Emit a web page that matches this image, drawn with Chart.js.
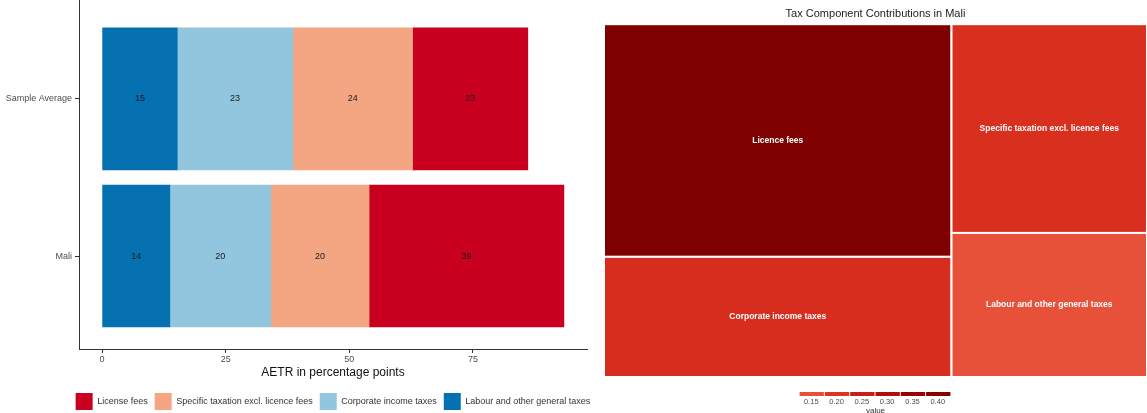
<!DOCTYPE html>
<html>
<head>
<meta charset="utf-8">
<script src="https://cdn.jsdelivr.net/npm/chart.js@4.4.1/dist/chart.umd.min.js"></script>
<style>
  html, body { margin: 0; padding: 0; background: #fff; }
  #wrap { position: relative; width: 1147px; height: 413px; overflow: hidden; }
  #barBox { position: absolute; left: 0; top: 0; width: 600px; height: 413px; }
  #treeBox { position: absolute; left: 600px; top: 0; width: 547px; height: 413px; }
</style>
</head>
<body>
<div id="wrap">
  <div id="barBox"><canvas id="barChart"></canvas></div>
  <div id="treeBox"><canvas id="treeChart"></canvas></div>
</div>
<script>
// ---- left panel: stacked AETR bars ----
const countries = ['Mali', 'Sample Average']; // y index 0, 1 (Mali at bottom)
const components = ['Labour and other general taxes', 'Corporate income taxes', 'Specific taxation excl. licence fees', 'License fees'];
const componentColors = ['#0571b0', '#92c5de', '#f4a582', '#ca0020'];
const maliValues = [13.7, 20.4, 19.9, 39.4];
const sampleAvgValues = [15.2, 23.4, 24.2, 23.3];
const xTicks = [0, 25, 50, 75];

// ---- right panel: treemap of Mali shares ----
const treeLabels = ['Licence fees', 'Corporate income taxes', 'Specific taxation excl. licence fees', 'Labour and other general taxes'];
const treeValues = [0.422, 0.218, 0.213, 0.147];
const treeColumns = [[0, 1], [2, 3]]; // which cells share a column
const colorbarTicks = [0.15, 0.20, 0.25, 0.30, 0.35, 0.40];

Chart.defaults.font.family = '"Liberation Sans", Arial, sans-serif';
Chart.defaults.animation = false;

// value -> red shade (light red to dark red)
const colorStops = [
  [0.14, [232, 85, 61]],
  [0.21, [217, 48, 32]],
  [0.28, [187, 20, 20]],
  [0.35, [152, 0, 6]],
  [0.42, [127, 0, 0]]
];
function colorFor(v) {
  if (v <= colorStops[0][0]) return 'rgb(' + colorStops[0][1].join(',') + ')';
  for (let i = 1; i < colorStops.length; i++) {
    if (v <= colorStops[i][0]) {
      const [a0, c0] = colorStops[i - 1];
      const [a1, c1] = colorStops[i];
      const t = (v - a0) / (a1 - a0);
      const c = c0.map((k, j) => Math.round(k + (c1[j] - k) * t));
      return 'rgb(' + c.join(',') + ')';
    }
  }
  return 'rgb(' + colorStops[colorStops.length - 1][1].join(',') + ')';
}

// numbers printed in the middle of each bar segment
const barLabelPlugin = {
  id: 'barLabels',
  afterLayout(chart) {
    // centre the legend under the plot panel, like ggplot does
    const lg = chart.legend;
    if (!lg) return;
    const mid = (chart.chartArea.left + chart.chartArea.right) / 2;
    const half = (lg.right - lg.left) / 2;
    lg.left = mid - half;
    lg.right = mid + half;
  },
  afterDatasetsDraw(chart) {
    const ctx = chart.ctx;
    ctx.save();
    ctx.font = '9px "Liberation Sans", Arial, sans-serif';
    ctx.fillStyle = '#1a1a1a';
    ctx.textAlign = 'center';
    ctx.textBaseline = 'middle';
    chart.data.datasets.forEach((ds, di) => {
      chart.getDatasetMeta(di).data.forEach((bar, j) => {
        const c = bar.getCenterPoint();
        ctx.fillText(String(Math.round(ds.data[j].x)), c.x, c.y);
      });
    });
    ctx.restore();
  }
};

new Chart(document.getElementById('barChart'), {
  type: 'bar',
  data: {
    datasets: components.map((name, i) => ({
      label: name,
      data: [{ x: maliValues[i], y: 0 }, { x: sampleAvgValues[i], y: 1 }],
      backgroundColor: componentColors[i],
      borderWidth: 0,
      barThickness: 142
    }))
  },
  options: {
    indexAxis: 'y',
    responsive: true,
    maintainAspectRatio: false,
    layout: { padding: { top: 0, left: 0, right: 13, bottom: 0 } },
    scales: {
      x: {
        type: 'linear',
        stacked: true,
        min: -4.67,
        max: 98.07,
        afterBuildTicks: (s) => { s.ticks = xTicks.map(v => ({ value: v })); },
        afterFit: (s) => { s.height = 37; s.paddingLeft = 0; s.paddingRight = 0; },
        border: { display: true, color: '#333', width: 1 },
        grid: { display: true, drawOnChartArea: false, drawTicks: true, tickLength: 4, color: '#333' },
        ticks: { color: '#4d4d4d', font: { size: 9 }, padding: 1, maxRotation: 0 },
        title: {
          display: true,
          text: 'AETR in percentage points',
          color: '#111',
          font: { size: 12 },
          padding: { top: 0, bottom: 6 }
        }
      },
      y: {
        type: 'linear',
        stacked: true,
        offset: false,
        min: -0.592,
        max: 1.63,
        afterBuildTicks: (s) => { s.ticks = countries.map((c, i) => ({ value: i })); },
        afterFit: (s) => { s.width = 79; s.paddingTop = 0; s.paddingBottom = 0; },
        border: { display: true, color: '#333', width: 1 },
        grid: { display: true, offset: false, drawOnChartArea: false, drawTicks: true, tickLength: 4, color: '#333' },
        ticks: {
          color: '#4d4d4d',
          font: { size: 9 },
          padding: 3,
          callback: (v) => countries[Math.round(v)]
        }
      }
    },
    plugins: {
      legend: {
        position: 'bottom',
        reverse: true,
        maxHeight: 27,
        labels: {
          boxWidth: 17,
          boxHeight: 17,
          padding: 7,
          color: '#333',
          font: { size: 9 }
        }
      },
      tooltip: { enabled: false }
    }
  },
  plugins: [barLabelPlugin]
});

// ---- treemap layout: column widths and cell heights follow the values ----
function layoutTreemap() {
  const total = treeValues.reduce((a, b) => a + b, 0);
  const cells = [];
  let xPos = 0;
  treeColumns.forEach(col => {
    const colSum = col.reduce((a, i) => a + treeValues[i], 0);
    const w = colSum / total;
    let yPos = 0;
    col.forEach(i => {
      const h = treeValues[i] / colSum;
      cells[i] = { x0: xPos, x1: xPos + w, y0: yPos, y1: yPos + h };
      yPos += h;
    });
    xPos += w;
  });
  return cells;
}
const treeCells = layoutTreemap();

const treemapPlugin = {
  id: 'treemapCells',
  beforeDatasetsDraw(chart) {
    const { ctx, scales: { x, y } } = chart;
    ctx.save();
    treeCells.forEach((c, i) => {
      const l = x.getPixelForValue(c.x0), r = x.getPixelForValue(c.x1);
      const t = y.getPixelForValue(c.y0), b = y.getPixelForValue(c.y1);
      ctx.fillStyle = colorFor(treeValues[i]);
      ctx.fillRect(l, t, r - l, b - t);
      ctx.strokeStyle = '#ffffff';
      ctx.lineWidth = 2;
      ctx.strokeRect(l, t, r - l, b - t);
    });
    ctx.restore();
  },
  afterDatasetsDraw(chart) {
    const { ctx, scales: { x, y } } = chart;
    ctx.save();
    ctx.font = 'bold 8.5px "Liberation Sans", Arial, sans-serif';
    ctx.fillStyle = '#ffffff';
    ctx.textAlign = 'center';
    ctx.textBaseline = 'middle';
    treeCells.forEach((c, i) => {
      const cx = x.getPixelForValue((c.x0 + c.x1) / 2);
      const cy = y.getPixelForValue((c.y0 + c.y1) / 2);
      ctx.fillText(treeLabels[i], cx, cy);
    });
    ctx.restore();
  },
  afterDraw(chart) {
    // discrete colour legend under the treemap
    const { ctx, chartArea } = chart;
    const segW = 25.3;
    const totalW = segW * colorbarTicks.length;
    const startX = (chartArea.left + chartArea.right) / 2 - totalW / 2;
    const barY = chartArea.bottom + 15;
    ctx.save();
    colorbarTicks.forEach((v, i) => {
      ctx.fillStyle = colorFor(v);
      ctx.fillRect(startX + i * segW, barY, segW - 1, 4);
    });
    ctx.fillStyle = '#4d4d4d';
    ctx.font = '7.5px "Liberation Sans", Arial, sans-serif';
    ctx.textAlign = 'center';
    ctx.textBaseline = 'middle';
    colorbarTicks.forEach((v, i) => {
      ctx.fillText(v.toFixed(2), startX + i * segW + segW / 2 - 1, barY + 10);
    });
    ctx.fillStyle = '#333';
    ctx.font = '8px "Liberation Sans", Arial, sans-serif';
    ctx.fillText('value', (chartArea.left + chartArea.right) / 2, barY + 19);
    ctx.restore();
  }
};

new Chart(document.getElementById('treeChart'), {
  type: 'scatter',
  data: {
    datasets: [{
      label: 'Mali',
      data: treeCells.map(c => ({ x: (c.x0 + c.x1) / 2, y: (c.y0 + c.y1) / 2 })),
      pointRadius: 0,
      pointHoverRadius: 0
    }]
  },
  options: {
    responsive: true,
    maintainAspectRatio: false,
    layout: { padding: { top: 0, left: 4, right: 0, bottom: 36 } },
    scales: {
      x: { type: 'linear', min: 0, max: 1, display: false },
      y: { type: 'linear', min: 0, max: 1, reverse: true, display: false }
    },
    plugins: {
      legend: { display: false },
      tooltip: { enabled: false },
      title: {
        display: true,
        text: 'Tax Component Contributions in Mali',
        color: '#222',
        font: { size: 11, weight: 'normal' },
        padding: { top: 7, bottom: 4 }
      }
    }
  },
  plugins: [treemapPlugin]
});
</script>
</body>
</html>
